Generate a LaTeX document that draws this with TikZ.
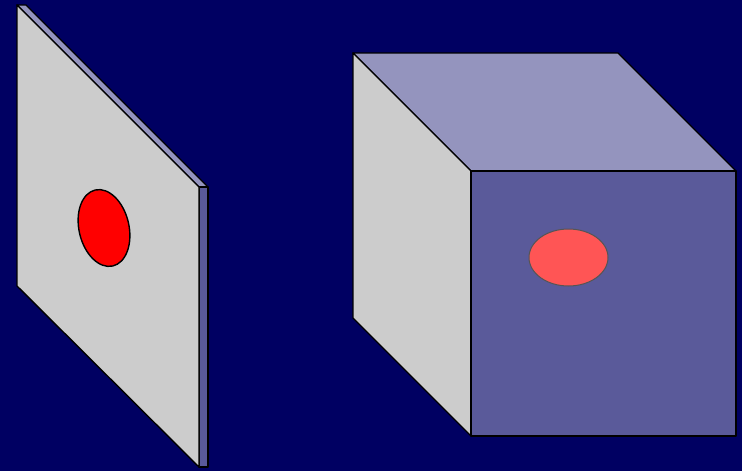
\documentclass[tikz,border=0pt]{standalone}
\begin{document}
\begin{tikzpicture}[x=1pt,y=-1pt,line join=round,
  edge/.style={draw=black,line width=1.4pt},
  grayface/.style={edge,fill=faceGray},
  topface/.style={edge,fill=faceLight},
  frontface/.style={edge,fill=faceMid}]
\definecolor{bgBlue}{RGB}{0,0,98}
\definecolor{faceGray}{RGB}{204,204,204}
\definecolor{faceLight}{RGB}{148,148,190}
\definecolor{faceMid}{RGB}{90,90,154}
\definecolor{spotRed}{RGB}{255,0,0}
\definecolor{spotPink}{RGB}{255,85,85}
\definecolor{spotEdge}{RGB}{85,85,85}
\fill[bgBlue] (0,0) rectangle (742,471);
\useasboundingbox (0,0) rectangle (742,471);
% left panel
\path[topface] (17,5) -- (26,5) -- (208,187) -- (199,187) -- cycle;
\path[frontface] (199,187) -- (208,187) -- (208,467) -- (199,467) -- cycle;
\path[grayface] (17,5) -- (199,187) -- (199,467) -- (17,286) -- cycle;
\path[draw=black,line width=1.4pt,fill=spotRed] (104,228) ellipse [x radius=25,y radius=39,rotate=13];
% cube
\path[topface] (353,53) -- (618,53) -- (736,171) -- (471,171) -- cycle;
\path[grayface] (353,53) -- (471,171) -- (471,436) -- (353,318) -- cycle;
\path[frontface] (471,171) -- (736,171) -- (736,436) -- (471,436) -- cycle;
\path[draw=spotEdge,line width=1pt,fill=spotPink] (568.5,257.5) ellipse [x radius=39.5,y radius=28.5];
\end{tikzpicture}
\end{document}
